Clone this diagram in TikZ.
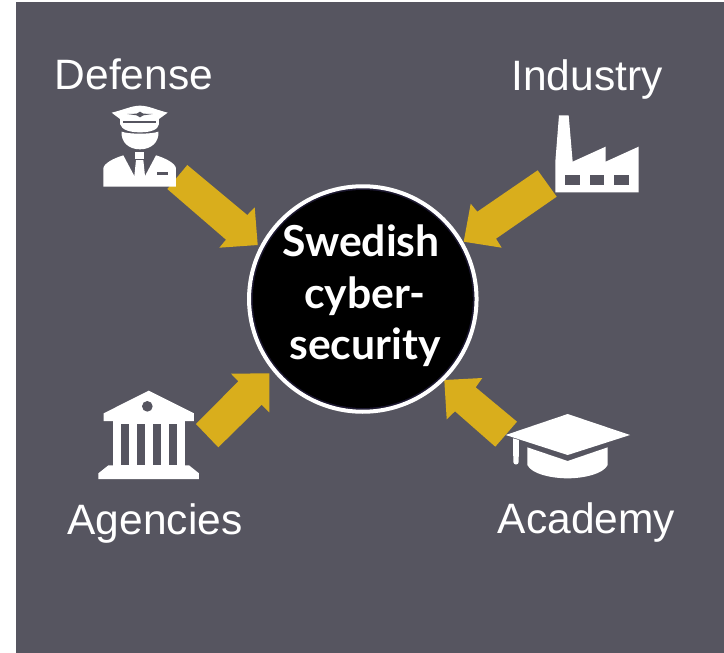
\documentclass[tikz,border=0pt]{standalone}
\usetikzlibrary{shapes.geometric}
\usepackage{fontspec}
\setmainfont{Liberation Sans}
\newfontfamily\hubfont{Lato}
\definecolor{slatebg}{HTML}{565560}
\definecolor{goldarrow}{HTML}{D9AE1C}
\definecolor{hubring}{HTML}{1C1830}
\tikzset{
  x=1pt,y=-1pt,
  blockarrow/.style={fill=goldarrow,draw=none},
  iconwhite/.style={fill=white,draw=none},
  iconhole/.style={fill=slatebg,draw=none},
  caption/.style={text=white,font=\fontsize{42.5}{42.5}\selectfont,anchor=base,inner sep=0pt},
  hubline/.style={text=white,font=\hubfont\bfseries\fontsize{42.7}{42.7}\selectfont,anchor=base,inner sep=0pt},
  zoomed/.style={x=0.33333pt,y=-0.33333pt}
}
\begin{document}
\begin{tikzpicture}
\useasboundingbox (0,0) rectangle (724,653);
\fill[white] (0,0) rectangle (724,653);
\fill[slatebg] (16,2) rectangle (724,653);
% arrows
\fill[blockarrow] (187.3,165) -- (247.3,215) -- (254.7,207.3) -- (257.7,245) -- (219.3,247.7) -- (226,239.7) -- (167.3,189) -- cycle;
\fill[blockarrow] (537.7,170.3) -- (556.7,196.7) -- (496,238.7) -- (501.7,247.7) -- (463.7,241.7) -- (470.7,203.7) -- (477.3,211.7) -- cycle;
\fill[blockarrow] (196,424) -- (218.3,447.3) -- (261.7,404.7) -- (269.3,412.3) -- (269.3,373.3) -- (231,373.7) -- (238.3,381.3) -- cycle;
\fill[blockarrow] (444.3,380) -- (482.3,378) -- (475.7,387.3) -- (517,421.7) -- (495.3,446.7) -- (455,411.3) -- (446.7,419.3) -- cycle;
% hub
\node[ellipse,minimum width=227.5pt,minimum height=225.5pt,inner sep=0pt,fill=hubring,draw=white,line width=4pt] (hub) at (362.8,299) {};
\node[ellipse,minimum width=220pt,minimum height=218pt,inner sep=0pt,fill=black,draw=none] (hubcore) at (hub.center) {};
\node[hubline] (l1) at (361,256) {Swedish};
\node[hubline] (l2) at (365,308.5) {cyber-};
\node[hubline] (l3) at (365,359) {security};
% captions
\node[caption] (defense) at (134,89) {Defense};
\node[caption] (industry) at (587,90) {Industry};
\node[caption] (agencies) at (155,534) {Agencies};
\node[caption] (academy) at (586.5,533) {Academy};
% officer
\begin{scope}[shift={(90pt,-100pt)},zoomed]
\fill[iconwhite] (65,38) .. controls (100,30) and (125,17) .. (150,17) .. controls (175,17) and (200,30) .. (233,38) -- (207,57) -- (207,72) .. controls (205,90) and (180,97) .. (150,97) .. controls (120,97) and (95,90) .. (90,72) -- (90,57) -- cycle;
\fill[iconhole] (100,62) rectangle (197,70);
\fill[iconhole] (112,42) -- (140,41) -- (150,35) -- (160,41) -- (188,42) -- (160,46) -- (150,52) -- (140,46) -- cycle;
\fill[iconwhite] (95,95) .. controls (115,103) and (185,103) .. (205,95) .. controls (208,125) and (185,148) .. (150,148) .. controls (115,148) and (92,125) .. (95,95) -- cycle;
\fill[iconwhite] (135,156) -- (163,156) -- (163,176) -- (135,176) -- cycle;
\fill[iconwhite] (138,180) -- (160,180) -- (165,228) -- (133,228) -- cycle;
\fill[iconwhite] (40,260) -- (40,205) .. controls (42,190) and (70,175) .. (100,166) -- (133,228) -- (165,228) -- (198,166) .. controls (228,175) and (256,190) .. (258,205) -- (258,260) -- cycle;
\fill[iconhole] (200,217) rectangle (235,224);
\end{scope}
% factory
\begin{scope}[shift={(460pt,-100pt)},zoomed]
\fill[iconwhite] (297,46) -- (326,46) -- (338,185) -- (437,140) -- (437,185) -- (536,140) -- (536,277) -- (286,277) -- (286,185) -- cycle;
\fill[iconhole] (316,224) rectangle (360,254);
\fill[iconhole] (389,224) rectangle (433,254);
\fill[iconhole] (463,224) rectangle (507,254);
\end{scope}
% bank
\begin{scope}[shift={(90pt,-360pt)},zoomed]
\fill[iconwhite] (176,92) -- (312,160) -- (312,183) -- (41,183) -- (41,160) -- cycle;
\fill[iconhole] (172,139) circle[radius=16];
\fill[iconwhite] (70,183) rectangle (284,318);
\foreach \colx in {94,142,190,238}{\fill[iconhole] (\colx,191) rectangle (\colx+22,316);}
\fill[iconwhite] (55,316) -- (297,316) -- (327,340) -- (327,357) -- (25,357) -- (25,340) -- cycle;
\end{scope}
% cap
\begin{scope}[shift={(440pt,-370pt)},zoomed]
\fill[iconwhite] (383,132) -- (570,195) -- (383,255) -- (197,195) -- cycle;
\fill[iconwhite] (219,205) -- (237,210) -- (236,276) .. controls (236,286) and (220,286) .. (220,276) -- cycle;
\fill[iconwhite] (262,232) -- (383,273) -- (503,232) -- (503,285) .. controls (490,312) and (430,325) .. (383,325) .. controls (335,325) and (275,312) .. (262,285) -- cycle;
\end{scope}
\end{tikzpicture}
\end{document}
